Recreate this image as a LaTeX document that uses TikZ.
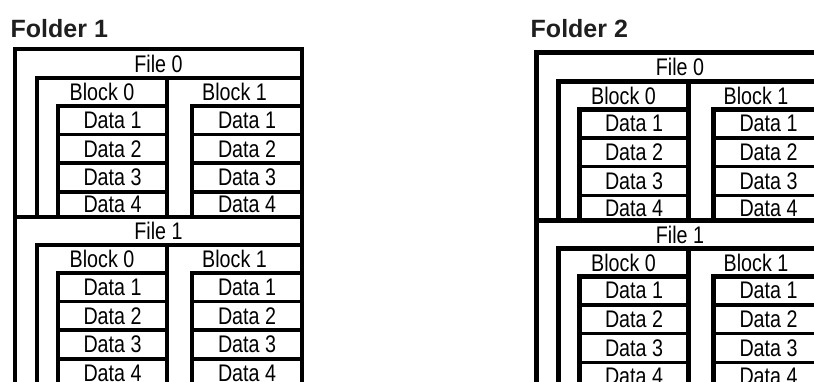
\documentclass[tikz,border=0pt]{standalone}
\usepackage{fontspec}
\setmainfont{Liberation Sans}
\newfontfamily\narrowfont{Liberation Sans}[FakeStretch=0.82]
\tikzset{
  frame/.style={line width=4.3pt, line join=miter, draw=black},
  sepline/.style={line width=3.3pt, draw=black},
  lbl/.style={inner sep=0pt, font=\narrowfont\fontsize{24}{28}\selectfont, text=black},
  title/.style={inner sep=0pt, anchor=base west, font=\bfseries\fontsize{25}{30}\selectfont, text=black!88}
}
% #1 prefix, #2 file number, #3 yF, #4 yB, #5 yD, #6 r1, #7 r2, #8 r3, #9 yE
\newcommand\filepart[9]{%
  \draw[frame] (15,#3) -- (302,#3);
  \draw[frame] (37,#9) -- (37,#4) -- (302,#4);
  \draw[frame] (167,#4) -- (167,#9);
  \draw[frame] (58,#9) -- (58,#5) -- (167,#5);
  \draw[frame] (192,#9) -- (192,#5) -- (302,#5);
  \foreach \r in {#6,#7,#8} {
    \draw[sepline] (58,\r) -- (167,\r);
    \draw[sepline] (192,\r) -- (302,\r);
  }
  \node[lbl] (#1-file) at (158.5,{(#3+#4)/2}) {File #2};
  \node[lbl] (#1-b0) at (102,{(#4+#5)/2}) {Block 0};
  \node[lbl] (#1-b1) at (234.5,{(#4+#5)/2}) {Block 1};
  \foreach \ya/\yb [count=\i] in {#5/#6,#6/#7,#7/#8,#8/#9} {
    \node[lbl] (#1-d0-\i) at (112.5,{(\ya+\yb)/2}) {Data \i};
    \node[lbl] (#1-d1-\i) at (247,{(\ya+\yb)/2}) {Data \i};
  }
}
% #1 prefix, #2 xshift, #3 yshift
\newcommand\folderpart[3]{%
  \begin{scope}[shift={(#2,#3)}]
    \draw[frame] (15,420) -- (15,49) -- (302,49) -- (302,420);
    \filepart{#1-a}{0}{49}{78}{106}{134.5}{163}{192}{217}
    \filepart{#1-b}{1}{217}{245}{273}{301.5}{330}{359}{387.5}
  \end{scope}
}
\begin{document}
\begin{tikzpicture}[x=1pt,y=-1pt]
  \useasboundingbox (0,0) rectangle (814,381);
  \clip (0,0) rectangle (814,381);
  \fill[white] (0,0) rectangle (814,381);
  \node[title] (t1) at (10.5,37) {Folder 1};
  \node[title] (t2) at (530.5,37.3) {Folder 2};
  \folderpart{fa}{0}{0}
  \folderpart{fb}{521.5}{3.5}
\end{tikzpicture}
\end{document}
